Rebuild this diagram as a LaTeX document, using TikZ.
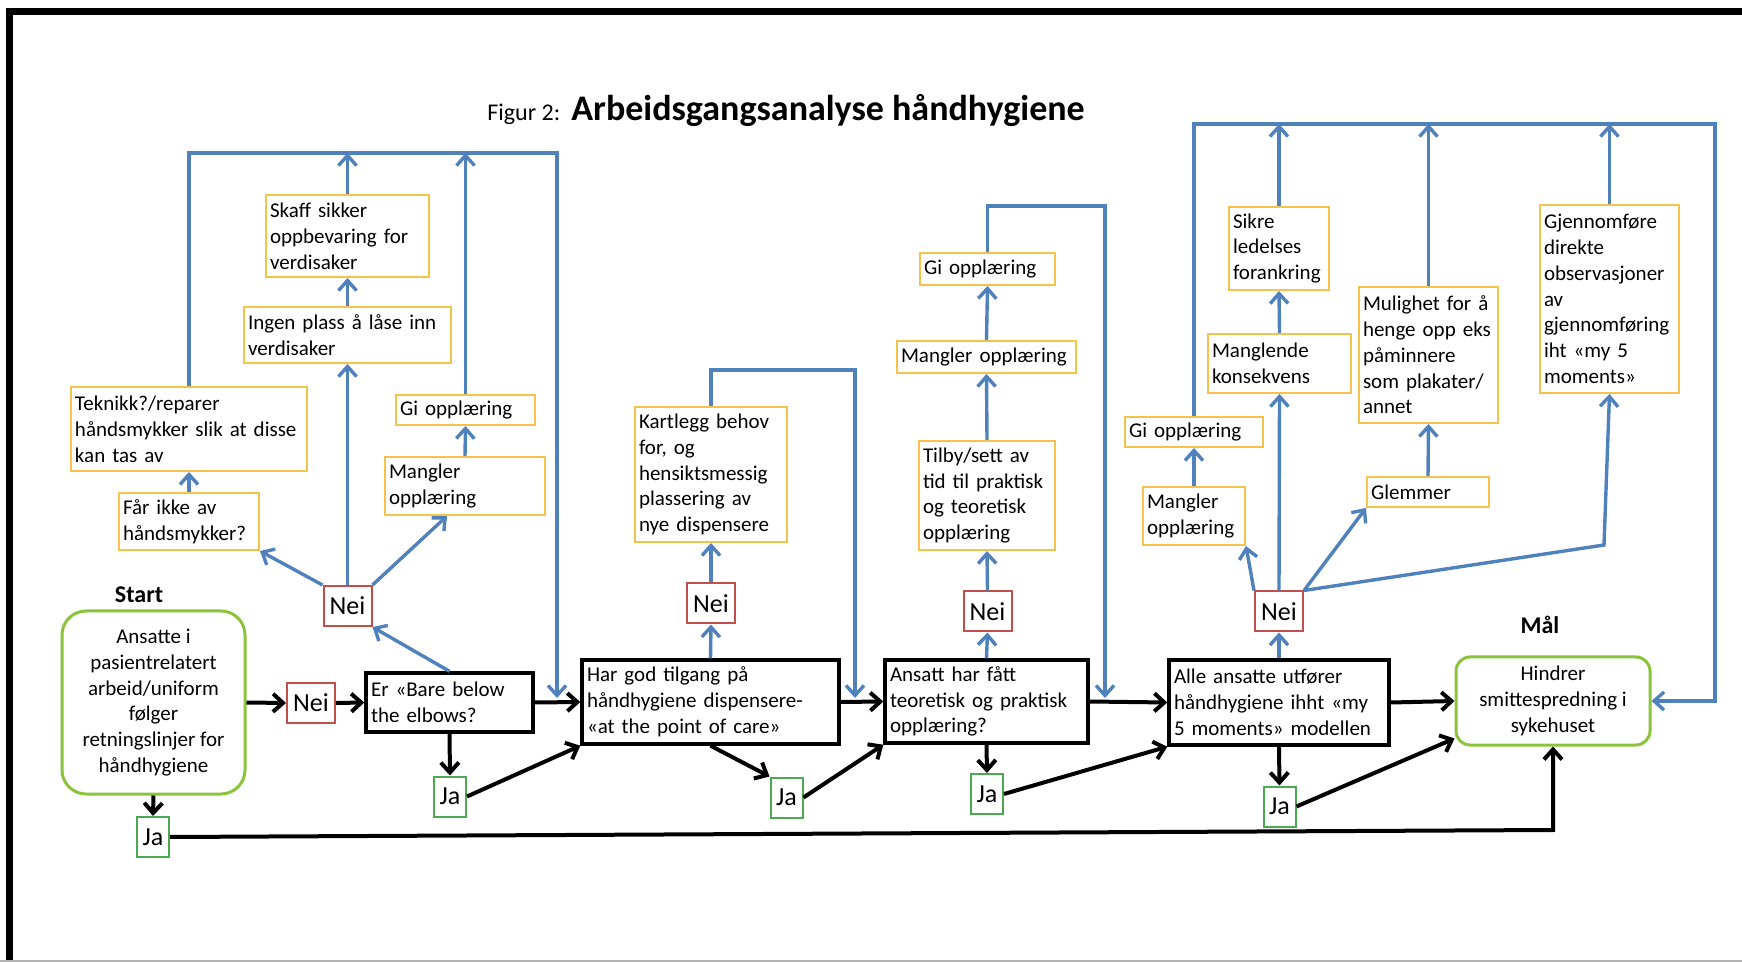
\documentclass[tikz,border=0pt]{standalone}
\usepackage{fontspec}
\setmainfont{Carlito}
\usetikzlibrary{arrows.meta}
\definecolor{yel}{RGB}{245,195,75}
\definecolor{redc}{RGB}{192,80,77}
\definecolor{jag}{RGB}{75,170,80}
\definecolor{startg}{RGB}{140,195,60}
\definecolor{bluec}{RGB}{79,129,189}
\newcommand\boxfont{\fontsize{10.5}{12.9}\selectfont}
\tikzset{
 ybox/.style={draw=yel, line width=1pt, align=left, inner xsep=2pt, inner ysep=1pt, font=\boxfont, fill=white},
 kbox/.style={draw=black, line width=1.7pt, align=left, inner xsep=2.5pt, inner ysep=1pt, font=\boxfont},
 neibox/.style={draw=redc, line width=1pt, minimum width=24pt, minimum height=20pt, inner sep=0pt, font=\fontsize{13}{15}\selectfont},
 jabox/.style={draw=jag, line width=1pt, minimum width=16pt, minimum height=20pt, inner sep=0pt, font=\fontsize{13}{15}\selectfont},
 gbox/.style={draw=startg, line width=1.5pt, align=center, font=\boxfont, inner sep=0pt},
 barrow/.style={draw=bluec, line width=1.7pt, -{Straight Barb[length=5pt,width=9pt]}},
 karrow/.style={draw=black, line width=2pt, -{Straight Barb[length=5pt,width=9pt]}},
 lbl/.style={font=\bfseries\fontsize{12}{14}\selectfont},
}
\begin{document}
\begin{tikzpicture}[x=0.5pt,y=-0.5pt]
\useasboundingbox (0,0) rectangle (1742,962);
% frame
\draw[line width=3.5pt] (9.5,962) -- (9.5,11.5) -- (1742,11.5);
\draw[gray!60, line width=0.6pt] (0,961) -- (1742,961);
% title
\node[anchor=base west, inner sep=0pt, font=\fontsize{12}{14}\selectfont] (fig) at (487,121) {Figur 2:};
\node[anchor=base west, inner sep=0pt, font=\bfseries\fontsize{18}{20}\selectfont] (title) at (571,121) {Arbeidsgangsanalyse håndhygiene};
% labels
\node[lbl] (startlbl) at (139,595) {Start};
\node[lbl] (mallbl) at (1540,625) {Mål};
% green terminals
\node[gbox, rounded corners=12pt, minimum width=91.5pt, minimum height=91.5pt] (start) at (153.5,702.5) {Ansatte i\\pasientrelatert\\arbeid/uniform\\følger\\retningslinjer for\\håndhygiene};
\node[gbox, rounded corners=7pt, minimum width=97pt, minimum height=44pt] (hindrer) at (1553,701) {Hindrer\\smittespredning i\\sykehuset};
% black decision boxes
\node[kbox, text width=78.5pt, minimum width=83.5pt, minimum height=29.5pt] (er) at (449.5,702.5) {Er~«Bare~below\\the~elbows?};
\node[kbox, text width=123.5pt, minimum width=128.5pt, minimum height=42pt] (har) at (710.5,702) {Har~god~tilgang~på\\håndhygiene~dispensere-\\«at~the~point~of~care»};
\node[kbox, text width=96.5pt, minimum width=101.5pt, minimum height=41.5pt] (ansatt) at (986.5,701.5) {Ansatt~har~fått\\teoretisk~og~praktisk\\opplæring?};
\node[kbox, text width=105pt, minimum width=110pt, minimum height=42.5pt] (alle) at (1279,702.5) {Alle~ansatte~utfører\\håndhygiene~ihht~«my\\5~moments»~modellen};
% Nei / Ja
\node[neibox] (nei0) at (311,703) {Nei};
\node[neibox] (nei1) at (347.5,606) {Nei};
\node[neibox] (nei2) at (711,603.5) {Nei};
\node[neibox] (nei3) at (987.5,611.5) {Nei};
\node[neibox] (nei4) at (1279,611.5) {Nei};
\node[jabox] (ja0) at (153,837) {Ja};
\node[jabox] (ja1) at (450,796.5) {Ja};
\node[jabox] (ja2) at (786.5,797.5) {Ja};
\node[jabox] (ja3) at (987,794) {Ja};
\node[jabox] (ja4) at (1279.5,806.5) {Ja};
% yellow boxes
\node[ybox, text width=77.5pt, minimum width=81.5pt, minimum height=41pt] (skaff) at (347.5,236) {Skaff~sikker\\oppbevaring~for\\verdisaker};
\node[ybox, text width=99.5pt, minimum width=103.5pt, minimum height=28pt] (ingen) at (347.5,335) {Ingen~plass~å~låse~inn\\verdisaker};
\node[ybox, text width=114pt, minimum width=118pt, minimum height=42pt] (teknikk) at (189,429) {Teknikk?/reparer\\håndsmykker~slik~at~disse\\kan~tas~av};
\node[ybox, text width=65.5pt, minimum width=69.5pt, minimum height=15pt] (giL) at (465.5,410) {Gi~opplæring};
\node[ybox, text width=76pt, minimum width=80pt, minimum height=29pt] (manglerL) at (465,486) {Mangler\\opplæring};
\node[ybox, text width=66pt, minimum width=70pt, minimum height=28.5pt] (faar) at (189,521.5) {Får~ikke~av\\håndsmykker?};
\node[ybox, text width=72pt, minimum width=76pt, minimum height=67.5pt] (kartlegg) at (711,474.5) {Kartlegg~behov\\for,~og\\hensiktsmessig\\plassering~av\\nye~dispensere};
\node[ybox, text width=63.5pt, minimum width=67.5pt, minimum height=16pt] (giM) at (987.5,269) {Gi~opplæring};
\node[ybox, text width=85.5pt, minimum width=89.5pt, minimum height=16pt] (manglerM) at (986.5,357) {Mangler~opplæring};
\node[ybox, text width=64pt, minimum width=68pt, minimum height=54.5pt] (tilby) at (987,495.5) {Tilby/sett~av\\tid~til~praktisk\\og~teoretisk\\opplæring};
\node[ybox, text width=65pt, minimum width=69pt, minimum height=15pt] (giR) at (1194,432) {Gi~opplæring};
\node[ybox, text width=47pt, minimum width=51pt, minimum height=29pt] (manglerR) at (1194,516) {Mangler\\opplæring};
\node[ybox, text width=46pt, minimum width=50pt, minimum height=41.5pt] (sikre) at (1279,248.5) {Sikre\\ledelses\\forankring};
\node[ybox, text width=67.5pt, minimum width=71.5pt, minimum height=29.5pt] (manglende) at (1279.5,363.5) {Manglende\\konsekvens};
\node[ybox, text width=65.5pt, minimum width=69.5pt, minimum height=68pt] (mulighet) at (1428.5,355) {Mulighet~for~å\\henge~opp~eks\\påminnere\\som~plakater/\\annet};
\node[ybox, text width=57pt, minimum width=61pt, minimum height=15pt] (glemmer) at (1428,492) {Glemmer};
\node[ybox, text width=65.5pt, minimum width=69.5pt, minimum height=94pt] (gjennom) at (1609.5,299) {Gjennomføre\\direkte\\observasjoner\\av\\gjennomføring\\iht~«my~5\\moments»};
% coordinates
\coordinate (top1) at (557,153);
\coordinate (end1) at (557,698);
\coordinate (k1) at (855,370);
\coordinate (end2) at (855,698);
\coordinate (m1) at (1105,206);
\coordinate (end3) at (1105,698);
\coordinate (top2) at (1715,124);
\coordinate (g1) at (1604,545);
\coordinate (b1) at (1553,830);
% black flow
\draw[karrow] (start.east) -- (nei0.west);
\draw[karrow] (nei0.east) -- (er.west);
\draw[karrow] (er.east) -- (har.west);
\draw[karrow] (har.east) -- (ansatt.west);
\draw[karrow] (ansatt.east) -- (alle.west);
\draw[karrow] (alle.east) -- (hindrer.west);
\draw[karrow] (start.south) -- (ja0.north);
\draw[karrow] (ja0.east) -- (b1) -- (hindrer.south);
\draw[karrow] (er.south) -- (ja1.north);
\draw[karrow] (ja1.east) -- (har.south west);
\draw[karrow] (har.south) -- (ja2.north west);
\draw[karrow] (ja2.east) -- (ansatt.south west);
\draw[karrow] (ansatt.south) -- (ja3.north);
\draw[karrow] (ja3.east) -- (alle.south west);
\draw[karrow] (alle.south) -- (ja4.north);
\draw[karrow] (ja4.east) -- ([yshift=4pt]hindrer.south west);
% blue: group 1
\draw[barrow] (er.north) -- (nei1.south east);
\draw[barrow] (nei1.north west) -- (faar.south east);
\draw[barrow] (nei1.north) -- (ingen.south);
\draw[barrow] (nei1.north east) -- ([xshift=-9pt]manglerL.south);
\draw[barrow] (faar.north) -- (teknikk.south);
\draw[barrow] (ingen.north) -- (skaff.south);
\draw[barrow] (manglerL.north) -- (giL.south);
\draw[barrow] (skaff.north) -- (skaff.north |- top1);
\draw[barrow] (giL.north) -- (giL.north |- top1);
\draw[barrow] (teknikk.north) |- (top1) -- (end1);
% blue: group 2
\draw[barrow] (har.north) -- (nei2.south);
\draw[barrow] (nei2.north) -- (kartlegg.south);
\draw[barrow] (kartlegg.north) |- (k1) -- (end2);
% blue: group 3
\draw[barrow] (ansatt.north) -- (nei3.south);
\draw[barrow] (nei3.north) -- (tilby.south);
\draw[barrow] (tilby.north) -- (manglerM.south);
\draw[barrow] (manglerM.north) -- (giM.south);
\draw[barrow] (giM.north) |- (m1) -- (end3);
% blue: group 4
\draw[barrow] (alle.north) -- (nei4.south);
\draw[barrow] (nei4.north west) -- (manglerR.south east);
\draw[barrow] (nei4.north) -- (manglende.south);
\draw[barrow] (nei4.north east) -- (glemmer.south west);
\draw[barrow] (nei4.north east) -- (g1) -- (gjennom.south);
\draw[barrow] (manglerR.north) -- (giR.south);
\draw[barrow] (manglende.north) -- (sikre.south);
\draw[barrow] (glemmer.north) -- (mulighet.south);
\draw[barrow] (sikre.north) -- (sikre.north |- top2);
\draw[barrow] (mulighet.north) -- (mulighet.north |- top2);
\draw[barrow] (gjennom.north) -- (gjennom.north |- top2);
\draw[barrow] (giR.north) |- (top2) |- (hindrer.east);
\end{tikzpicture}
\end{document}
